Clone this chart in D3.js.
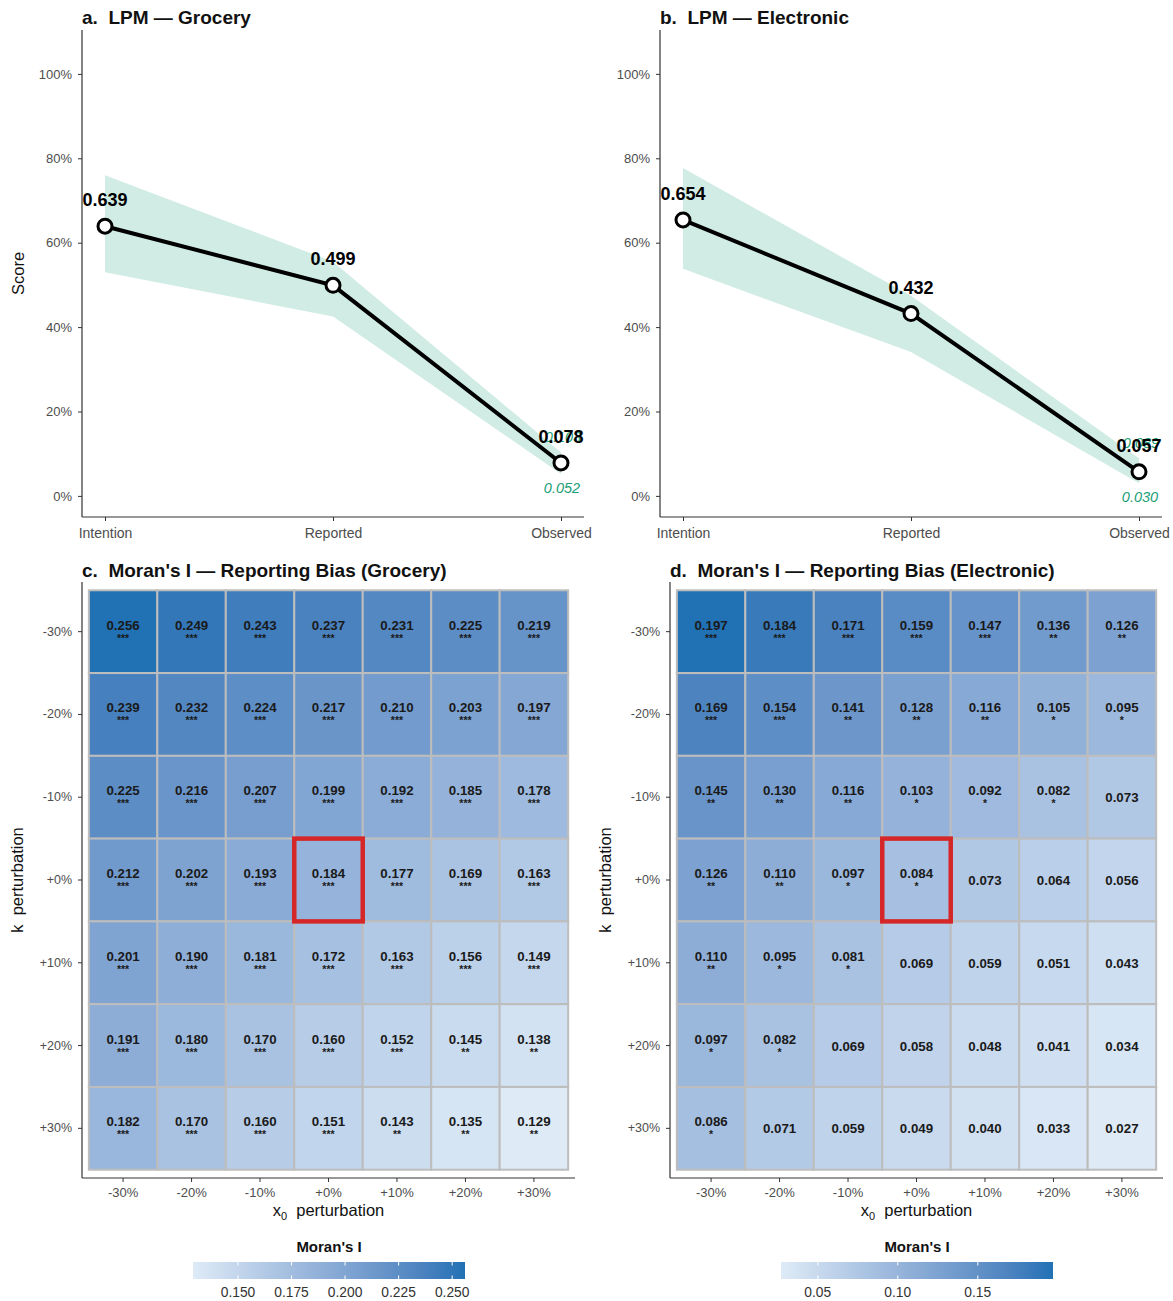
<!DOCTYPE html>
<html>
<head>
<meta charset="utf-8">
<title>LPM and Moran's I</title>
<script src="https://d3js.org/d3.v7.min.js"></script>
<style>
  body { margin: 0; background: #fff; }
  svg text { font-family: "Liberation Sans", Arial, Helvetica, sans-serif; }
</style>
</head>
<body>
<div id="chart"></div>
<script>
// ---- data ----
var stages = ["Intention", "Reported", "Observed"];
var groceryScore = [0.639, 0.499, 0.078];
var groceryLow = [0.530, 0.425, 0.052];
var groceryHigh = [0.760, 0.555, 0.103];
var electronicScore = [0.654, 0.432, 0.057];
var electronicLow = [0.538, 0.341, 0.030];
var electronicHigh = [0.777, 0.474, 0.089];
var scoreTicks = [0, 0.2, 0.4, 0.6, 0.8, 1.0];

var kLevels = ["-30%", "-20%", "-10%", "+0%", "+10%", "+20%", "+30%"];
var x0Levels = ["-30%", "-20%", "-10%", "+0%", "+10%", "+20%", "+30%"];

// rows = k perturbation, cols = x0 perturbation
var groceryMoran = [
  [0.256, 0.249, 0.243, 0.237, 0.231, 0.225, 0.219],
  [0.239, 0.232, 0.224, 0.217, 0.210, 0.203, 0.197],
  [0.225, 0.216, 0.207, 0.199, 0.192, 0.185, 0.178],
  [0.212, 0.202, 0.193, 0.184, 0.177, 0.169, 0.163],
  [0.201, 0.190, 0.181, 0.172, 0.163, 0.156, 0.149],
  [0.191, 0.180, 0.170, 0.160, 0.152, 0.145, 0.138],
  [0.182, 0.170, 0.160, 0.151, 0.143, 0.135, 0.129]
];
var groceryStars = [
  ["***", "***", "***", "***", "***", "***", "***"],
  ["***", "***", "***", "***", "***", "***", "***"],
  ["***", "***", "***", "***", "***", "***", "***"],
  ["***", "***", "***", "***", "***", "***", "***"],
  ["***", "***", "***", "***", "***", "***", "***"],
  ["***", "***", "***", "***", "***", "**", "**"],
  ["***", "***", "***", "***", "**", "**", "**"]
];
var electronicMoran = [
  [0.197, 0.184, 0.171, 0.159, 0.147, 0.136, 0.126],
  [0.169, 0.154, 0.141, 0.128, 0.116, 0.105, 0.095],
  [0.145, 0.130, 0.116, 0.103, 0.092, 0.082, 0.073],
  [0.126, 0.110, 0.097, 0.084, 0.073, 0.064, 0.056],
  [0.110, 0.095, 0.081, 0.069, 0.059, 0.051, 0.043],
  [0.097, 0.082, 0.069, 0.058, 0.048, 0.041, 0.034],
  [0.086, 0.071, 0.059, 0.049, 0.040, 0.033, 0.027]
];
var electronicStars = [
  ["***", "***", "***", "***", "***", "**", "**"],
  ["***", "***", "**", "**", "**", "*", "*"],
  ["**", "**", "**", "*", "*", "*", ""],
  ["**", "**", "*", "*", "", "", ""],
  ["**", "*", "*", "", "", "", ""],
  ["*", "*", "", "", "", "", ""],
  ["*", "", "", "", "", "", ""]
];
var groceryLegendTicks = [0.150, 0.175, 0.200, 0.225, 0.250];
var electronicLegendTicks = [0.05, 0.10, 0.15];

var axisGrey = "#4d4d4d";
var bandGreen = "#1b9e77";

function createCanvas() {
  return d3.select("#chart").append("svg")
    .attr("width", 1173)
    .attr("height", 1301);
}

function drawLinePanel(svg, opts) {
  var left = opts.left, right = opts.left + 502, top = 30, bottom = 517;
  var x = d3.scalePoint().domain(stages).range([left + 23, right - 23]);
  var y = d3.scaleLinear().domain([-0.05, 1.104]).range([bottom, top]);
  var g = svg.append("g");

  svg.append("text")
    .attr("x", left).attr("y", 24)
    .attr("font-size", 19).attr("font-weight", "bold")
    .attr("fill", "#111")
    .attr("xml:space", "preserve")
    .text(opts.title);

  var rows = stages.map(function(s, i) {
    return {stage: s, v: opts.score[i], lo: opts.low[i], hi: opts.high[i]};
  });

  g.append("path")
    .datum(rows)
    .attr("fill", bandGreen).attr("fill-opacity", 0.2)
    .attr("d", d3.area()
      .x(function(d) { return x(d.stage); })
      .y0(function(d) { return y(d.lo); })
      .y1(function(d) { return y(d.hi); }));

  g.append("path")
    .datum(rows)
    .attr("fill", "none").attr("stroke", "#000").attr("stroke-width", 4)
    .attr("d", d3.line()
      .x(function(d) { return x(d.stage); })
      .y(function(d) { return y(d.v); }));

  g.selectAll(".pt").data(rows).enter().append("circle")
    .attr("class", "pt")
    .attr("cx", function(d) { return x(d.stage); })
    .attr("cy", function(d) { return y(d.v); })
    .attr("r", 7)
    .attr("fill", "#fff").attr("stroke", "#000").attr("stroke-width", 3);

  // CI labels on the last stage (drawn under the value label, as in the source)
  var last = rows[rows.length - 1];
  g.append("text")
    .attr("x", x(last.stage) + 2).attr("y", y(last.hi) - 10)
    .attr("text-anchor", "middle").attr("font-size", 14.5)
    .attr("font-style", "italic").attr("fill", bandGreen)
    .text(d3.format(".3f")(last.hi));
  g.append("text")
    .attr("x", x(last.stage) + 1).attr("y", y(last.lo) + 19)
    .attr("text-anchor", "middle").attr("font-size", 14.5)
    .attr("font-style", "italic").attr("fill", bandGreen)
    .text(d3.format(".3f")(last.lo));

  g.selectAll(".val").data(rows).enter().append("text")
    .attr("class", "val")
    .attr("x", function(d) { return x(d.stage); })
    .attr("y", function(d) { return y(d.v) - 20; })
    .attr("text-anchor", "middle").attr("font-size", 18)
    .attr("font-weight", "bold").attr("fill", "#000")
    .text(function(d) { return d3.format(".3f")(d.v); });

  var yAxis = svg.append("g").attr("transform", "translate(" + left + ",0)")
    .call(d3.axisLeft(y).tickValues(scoreTicks).tickSize(4)
      .tickFormat(d3.format(".0%")));
  yAxis.select(".domain").attr("d", "M0," + top + "V" + bottom).attr("stroke", "#333").attr("stroke-width", 1.2);
  yAxis.selectAll(".tick line").attr("stroke", "#333");
  yAxis.selectAll(".tick text").attr("font-size", 13).attr("fill", axisGrey).attr("x", -10);

  var xAxis = svg.append("g").attr("transform", "translate(0," + bottom + ")")
    .call(d3.axisBottom(x).tickSize(4));
  xAxis.select(".domain").attr("d", "M" + left + ",0H" + right).attr("stroke", "#333").attr("stroke-width", 1.2);
  xAxis.selectAll(".tick line").attr("stroke", "#333");
  xAxis.selectAll(".tick text").attr("font-size", 14).attr("fill", axisGrey).attr("y", 11);

  if (opts.yTitle) {
    svg.append("text")
      .attr("transform", "translate(24," + ((top + bottom) / 2) + ") rotate(-90)")
      .attr("text-anchor", "middle").attr("font-size", 16.5).attr("fill", "#111")
      .text(opts.yTitle);
  }
}

function drawHeatPanel(svg, opts) {
  var left = opts.left, right = opts.left + 493, top = 582, bottom = 1178;
  var x = d3.scaleBand().domain(x0Levels).range([left, right]).paddingOuter(0.1);
  var y = d3.scaleBand().domain(kLevels).range([top, bottom]).paddingOuter(0.1);
  var flat = [];
  opts.values.forEach(function(row, i) {
    row.forEach(function(v, j) {
      flat.push({k: kLevels[i], x0: x0Levels[j], v: v, s: opts.stars[i][j]});
    });
  });
  var ext = d3.extent(flat, function(d) { return d.v; });
  var color = d3.scaleSequential(d3.interpolateLab("#deebf7", "#2171b5")).domain(ext);

  svg.append("text")
    .attr("x", left).attr("y", 577)
    .attr("font-size", 19).attr("font-weight", "bold").attr("fill", "#111")
    .attr("xml:space", "preserve")
    .text(opts.title);

  var g = svg.append("g");
  g.selectAll("rect.cell").data(flat).enter().append("rect")
    .attr("class", "cell")
    .attr("x", function(d) { return x(d.x0); })
    .attr("y", function(d) { return y(d.k); })
    .attr("width", x.bandwidth()).attr("height", y.bandwidth())
    .attr("fill", function(d) { return color(d.v); })
    .attr("stroke", "#bdbdbd").attr("stroke-width", 2);

  g.selectAll("text.num").data(flat).enter().append("text")
    .attr("class", "num")
    .attr("x", function(d) { return x(d.x0) + x.bandwidth() / 2; })
    .attr("y", function(d) { return y(d.k) + y.bandwidth() / 2 + (d.s ? -2 : 5); })
    .attr("text-anchor", "middle").attr("font-size", 13.3).attr("font-weight", "bold")
    .attr("fill", "#1a1a1a")
    .text(function(d) { return d3.format(".3f")(d.v); });

  g.selectAll("text.star").data(flat.filter(function(d) { return d.s; })).enter().append("text")
    .attr("class", "star")
    .attr("x", function(d) { return x(d.x0) + x.bandwidth() / 2; })
    .attr("y", function(d) { return y(d.k) + y.bandwidth() / 2 + 10; })
    .attr("text-anchor", "middle").attr("font-size", 10.5).attr("font-weight", "bold")
    .attr("fill", "#1a1a1a")
    .text(function(d) { return d.s; });

  // highlight baseline cell
  g.append("rect")
    .attr("x", x("+0%")).attr("y", y("+0%"))
    .attr("width", x.bandwidth()).attr("height", y.bandwidth())
    .attr("fill", "none").attr("stroke", "#d62728").attr("stroke-width", 4.5);

  var yAxis = svg.append("g").attr("transform", "translate(" + left + ",0)")
    .call(d3.axisLeft(y).tickSize(4));
  yAxis.select(".domain").attr("d", "M0," + top + "V" + bottom).attr("stroke", "#333").attr("stroke-width", 1.2);
  yAxis.selectAll(".tick line").attr("stroke", "#333");
  yAxis.selectAll(".tick text").attr("font-size", 12.5).attr("fill", axisGrey).attr("x", -10);

  var xAxis = svg.append("g").attr("transform", "translate(0," + bottom + ")")
    .call(d3.axisBottom(x).tickSize(4));
  xAxis.select(".domain").attr("d", "M" + left + ",0H" + right).attr("stroke", "#333").attr("stroke-width", 1.2);
  xAxis.selectAll(".tick line").attr("stroke", "#333");
  xAxis.selectAll(".tick text").attr("font-size", 13).attr("fill", axisGrey).attr("y", 10);

  var xt = svg.append("text")
    .attr("x", (left + right) / 2).attr("y", 1216)
    .attr("text-anchor", "middle").attr("font-size", 16.5).attr("fill", "#111");
  xt.append("tspan").text("x");
  xt.append("tspan").attr("font-size", 11).attr("dy", 4).text("0");
  xt.append("tspan").attr("dy", -4).attr("xml:space", "preserve").text("  perturbation");

  svg.append("text")
    .attr("transform", "translate(" + (left - 59) + "," + ((top + bottom) / 2) + ") rotate(-90)")
    .attr("text-anchor", "middle").attr("font-size", 16.5).attr("fill", "#111")
    .attr("xml:space", "preserve")
    .text("k  perturbation");

  // colour bar legend
  var lx = left + 111, lw = 272, ly = 1262, lh = 17;
  var gradId = "grad" + opts.id;
  var grad = svg.append("defs").append("linearGradient").attr("id", gradId);
  d3.range(0, 1.0001, 0.1).forEach(function(t) {
    grad.append("stop").attr("offset", t)
      .attr("stop-color", color(ext[0] + t * (ext[1] - ext[0])));
  });
  var lScale = d3.scaleLinear().domain(ext).range([lx, lx + lw]);
  svg.append("text")
    .attr("x", lx + lw / 2).attr("y", 1252)
    .attr("text-anchor", "middle").attr("font-size", 15).attr("font-weight", "bold")
    .attr("fill", "#111").text("Moran's I");
  svg.append("rect")
    .attr("x", lx).attr("y", ly).attr("width", lw).attr("height", lh)
    .attr("fill", "url(#" + gradId + ")");
  var lt = svg.append("g").selectAll("g").data(opts.legendTicks).enter().append("g");
  lt.append("line")
    .attr("x1", function(d) { return lScale(d); }).attr("x2", function(d) { return lScale(d); })
    .attr("y1", ly).attr("y2", ly + 3.5).attr("stroke", "#fff").attr("stroke-width", 1);
  lt.append("line")
    .attr("x1", function(d) { return lScale(d); }).attr("x2", function(d) { return lScale(d); })
    .attr("y1", ly + lh - 3.5).attr("y2", ly + lh).attr("stroke", "#fff").attr("stroke-width", 1);
  lt.append("text")
    .attr("x", function(d) { return lScale(d); }).attr("y", 1297)
    .attr("text-anchor", "middle").attr("font-size", 13.8).attr("fill", "#333")
    .text(function(d) { return d3.format(opts.legendFmt)(d); });
}

var canvas = createCanvas();
drawLinePanel(canvas, {left: 82, title: "a.  LPM \u2014 Grocery", score: groceryScore,
  low: groceryLow, high: groceryHigh, yTitle: "Score"});
drawLinePanel(canvas, {left: 660, title: "b.  LPM \u2014 Electronic", score: electronicScore,
  low: electronicLow, high: electronicHigh});
drawHeatPanel(canvas, {left: 82, id: "c", title: "c.  Moran's I \u2014 Reporting Bias (Grocery)",
  values: groceryMoran, stars: groceryStars, legendTicks: groceryLegendTicks, legendFmt: ".3f"});
drawHeatPanel(canvas, {left: 670, id: "d", title: "d.  Moran's I \u2014 Reporting Bias (Electronic)",
  values: electronicMoran, stars: electronicStars, legendTicks: electronicLegendTicks, legendFmt: ".2f"});
</script>
</body>
</html>
